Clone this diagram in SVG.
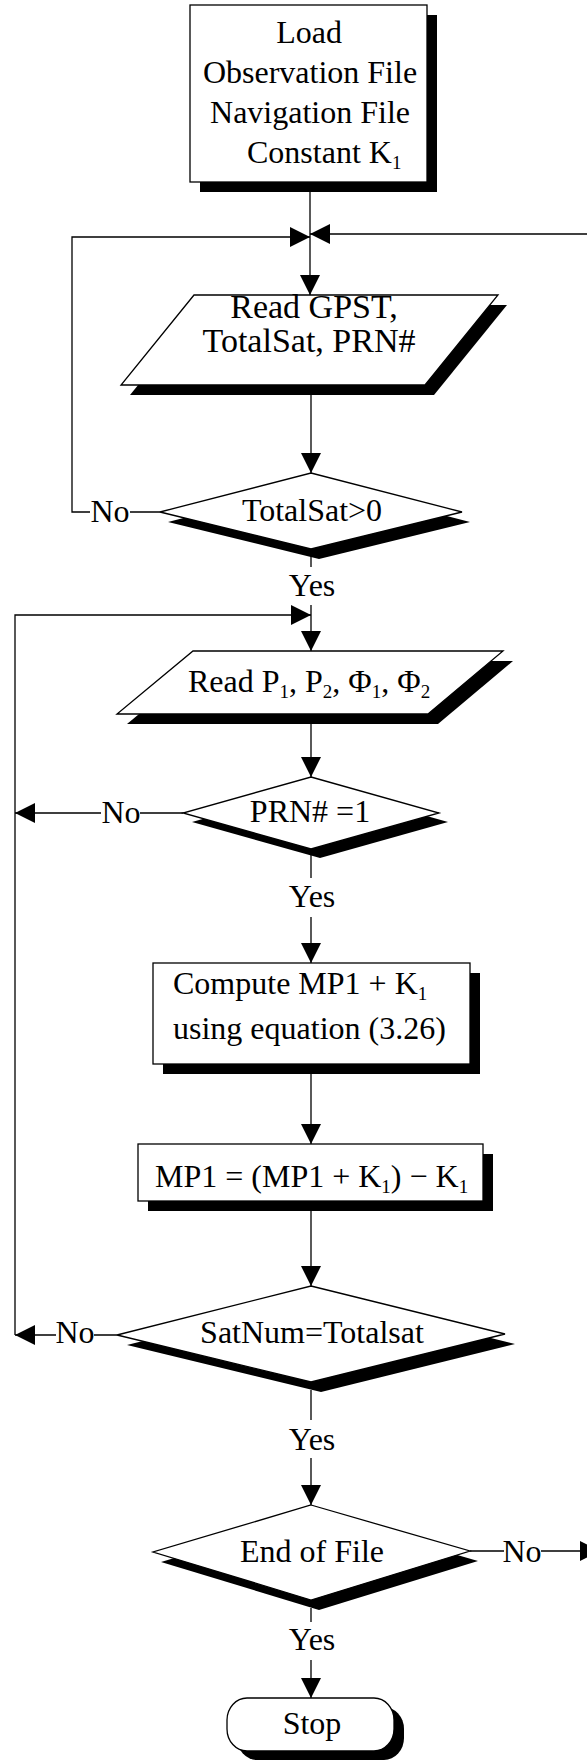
<svg xmlns="http://www.w3.org/2000/svg" width="587" height="1760" viewBox="0 0 587 1760">
<style>
.n{fill:#fff;stroke:#000;stroke-width:1.3}
.s{fill:#000;stroke:none}
.c{fill:none;stroke:#000;stroke-width:1.3}
.t{font-family:"Liberation Serif","Times New Roman",serif;font-size:32px;fill:#000}
.m{text-anchor:middle}
.sub{font-size:19px}
.big{font-size:34px}
</style>
<defs>
<marker id="ah" markerUnits="userSpaceOnUse" markerWidth="20" markerHeight="20" refX="20" refY="10" orient="auto" viewBox="0 0 20 20">
<path d="M0,0 L20,10 L0,20 z" fill="#000"/>
</marker>
</defs>
<rect width="587" height="1760" fill="#fff"/>
<g id="connectors">
<path class="c" d="M310,192 V295" marker-end="url(#ah)"/>
<path class="c" d="M160,512 H130 M90,512 H72 V237 H310" marker-end="url(#ah)"/>
<path class="c" d="M600,234 H310" marker-end="url(#ah)"/>
<path class="c" d="M311,395 V473" marker-end="url(#ah)"/>
<path class="c" d="M311,555 V567 M311,605 V651" marker-end="url(#ah)"/>
<path class="c" d="M15,1335 V615 H311" marker-end="url(#ah)"/>
<path class="c" d="M311,724 V777" marker-end="url(#ah)"/>
<path class="c" d="M183,813 H140 M101,813 H15" marker-end="url(#ah)"/>
<path class="c" d="M311,855 V878 M311,917 V963" marker-end="url(#ah)"/>
<path class="c" d="M311,1074 V1144" marker-end="url(#ah)"/>
<path class="c" d="M311,1211 V1286" marker-end="url(#ah)"/>
<path class="c" d="M117,1335 H94 M56,1335 H15" marker-end="url(#ah)"/>
<path class="c" d="M311,1390 V1420 M311,1458 V1505" marker-end="url(#ah)"/>
<path class="c" d="M470,1551 H504 M541,1551 H600" marker-end="url(#ah)"/>
<path class="c" d="M311,1608 V1622 M311,1660 V1698" marker-end="url(#ah)"/>
</g>
<g id="labels">
<text class="t m" x="110" y="522">No</text>
<text class="t m" x="312" y="596">Yes</text>
<text class="t m" x="121" y="823">No</text>
<text class="t m" x="312" y="907">Yes</text>
<text class="t m" x="75" y="1343">No</text>
<text class="t m" x="312" y="1450">Yes</text>
<text class="t m" x="522" y="1562">No</text>
<text class="t m" x="312" y="1650">Yes</text>
</g>
<g id="load">
<rect class="s" x="200" y="15" width="237" height="177"/>
<rect class="n" x="190" y="5" width="237" height="177"/>
<text class="t m" x="309" y="43">Load</text>
<text class="t m" x="310" y="83">Observation File</text>
<text class="t m" x="310" y="123">Navigation File</text>
<text class="t" x="247" y="163">Constant K<tspan class="sub" dy="6">1</tspan></text>
</g>
<g id="read-gpst">
<polygon class="s" points="203,305 507,305 434,395 130,395"/>
<polygon class="n" points="194,295 498,295 425,385 121,385"/>
<text class="t m big" x="314" y="318">Read GPST,</text>
<text class="t m big" x="309" y="352">TotalSat, PRN#</text>
</g>
<g id="totalsat">
<polygon class="s" points="319,483 470,522 319,559 168,522"/>
<polygon class="n" points="311,473 462,512 311,549 160,512"/>
<text class="t m" x="312" y="521">TotalSat&gt;0</text>
</g>
<g id="read-p">
<polygon class="s" points="203,661 513,661 438,724 127,724"/>
<polygon class="n" points="193,651 503,651 428,714 117,714"/>
<text class="t" x="188" y="692">Read P<tspan class="sub" dy="6">1</tspan><tspan dy="-6">, P</tspan><tspan class="sub" dy="6">2</tspan><tspan dy="-6">, Φ</tspan><tspan class="sub" dy="6">1</tspan><tspan dy="-6">, Φ</tspan><tspan class="sub" dy="6">2</tspan></text>
</g>
<g id="prn">
<polygon class="s" points="320,786 448,822 320,858 192,822"/>
<polygon class="n" points="311,777 439,813 311,849 183,813"/>
<text class="t m" x="310" y="822">PRN# =1</text>
</g>
<g id="compute">
<rect class="s" x="163" y="973" width="317" height="101"/>
<rect class="n" x="153" y="963" width="317" height="101"/>
<text class="t" x="173" y="994">Compute MP1 + K<tspan class="sub" dy="6">1</tspan></text>
<text class="t" x="173" y="1039">using equation (3.26)</text>
</g>
<g id="mp1">
<rect class="s" x="148" y="1154" width="345" height="57"/>
<rect class="n" x="138" y="1144" width="345" height="57"/>
<text class="t" x="155" y="1187">MP1 = (MP1 + K<tspan class="sub" dy="6">1</tspan><tspan dy="-6">) − K</tspan><tspan class="sub" dy="6">1</tspan></text>
</g>
<g id="satnum">
<polygon class="s" points="321,1296 515,1344 321,1392 127,1345"/>
<polygon class="n" points="311,1286 505,1334 311,1382 117,1335"/>
<text class="t m" x="312" y="1343">SatNum=Totalsat</text>
</g>
<g id="eof">
<polygon class="s" points="319,1515 478,1561 319,1610 161,1562"/>
<polygon class="n" points="311,1505 470,1551 311,1600 153,1552"/>
<text class="t m" x="312" y="1562">End of File</text>
</g>
<g id="stop">
<rect class="s" x="237" y="1707" width="167" height="53" rx="20" ry="22"/>
<rect class="n" x="227" y="1698" width="167" height="53" rx="20" ry="22"/>
<text class="t m" x="312" y="1734">Stop</text>
</g>
</svg>
